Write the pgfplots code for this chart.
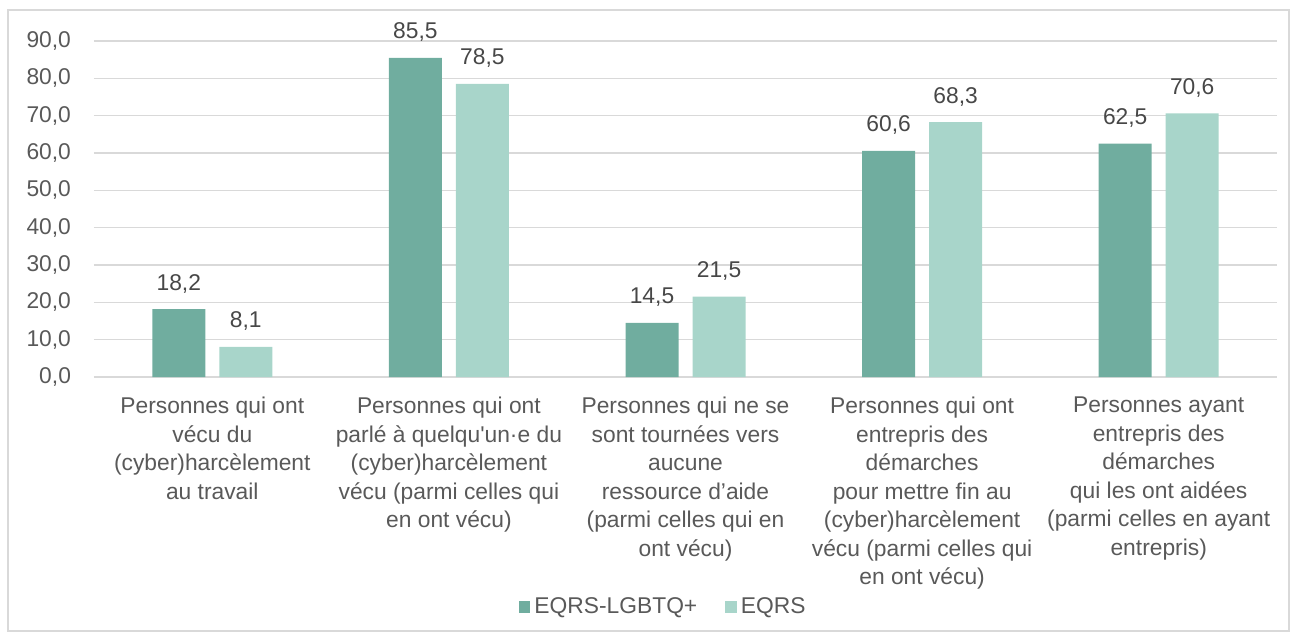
\documentclass[border=0pt]{standalone}
\usepackage{fontspec}
\setmainfont{Liberation Sans}
\usepackage{pgfplots}
\pgfplotsset{compat=1.18}
\definecolor{dark}{HTML}{70AD9F}
\definecolor{light}{HTML}{A8D5CA}
\definecolor{gridc}{HTML}{D9D9D9}
\definecolor{txt}{HTML}{595959}
\newcommand{\lblfont}{\fontsize{11.4}{14.25}\selectfont}
\begin{document}
\begin{tikzpicture}
\begin{axis}[
  scale only axis,
  width=591.5pt, height=168pt,
  xmin=-0.5, xmax=4.5, ymin=0, ymax=90,
  ybar=7pt, bar width=26.5pt,
  xtick={0,...,4},
  xticklabels={
    {Personnes qui ont\\vécu du\\(cyber)harcèlement\\au travail},
    {Personnes qui ont\\parlé à quelqu\textquotesingle un·e du\\(cyber)harcèlement\\vécu (parmi celles qui\\en ont vécu)},
    {Personnes qui ne se\\sont tournées vers\\aucune\\ressource d’aide\\(parmi celles qui en\\ont vécu)},
    {Personnes qui ont\\entrepris des\\démarches\\pour mettre fin au\\(cyber)harcèlement\\vécu (parmi celles qui\\en ont vécu)},
    {Personnes ayant\\entrepris des\\démarches\\qui les ont aidées\\(parmi celles en ayant\\entrepris)}},
  ytick={0,10,...,90},
  ymajorgrids,
  grid style={draw=gridc, line width=0.65pt},
  axis line style={draw=none},
  major tick length=0pt,
  tick label style={font=\lblfont, text=txt},
  x tick label style={align=center, yshift=-6.5pt},
  y tick label style={xshift=-8pt},
  /pgf/number format/assume math mode=true,
  yticklabel style={/pgf/number format/.cd, fixed, fixed zerofill, precision=1, use comma},
  nodes near coords,
  nodes near coords style={font=\lblfont, text=txt!80!black, yshift=4.5pt,
    /pgf/number format/.cd, fixed, fixed zerofill, precision=1, use comma, assume math mode=true},
  legend style={at={(0.482,-0.685)}, anchor=center, draw=none, fill=none,
    font=\lblfont, text=txt, legend columns=2,
    /tikz/every even column/.append style={column sep=12pt}},
]
\addplot[fill=dark, draw=none,
  legend image code/.code={\fill[dark] (0pt,-2.9pt) rectangle (5.8pt,2.9pt);}]
  coordinates {(0,18.2) (1,85.5) (2,14.5) (3,60.6) (4,62.5)};
\addplot[fill=light, draw=none,
  legend image code/.code={\fill[light] (0pt,-2.9pt) rectangle (5.8pt,2.9pt);}]
  coordinates {(0,8.1) (1,78.5) (2,21.5) (3,68.3) (4,70.6)};
\legend{EQRS-LGBTQ+, EQRS}
\end{axis}
\pgfresetboundingbox
\draw[gridc, line width=0.6pt] (-43pt,-127pt) rectangle (597.5pt,183.5pt);
\useasboundingbox (-47pt,-127.5pt) rectangle (599.5pt,188.5pt);
\end{tikzpicture}
\end{document}
